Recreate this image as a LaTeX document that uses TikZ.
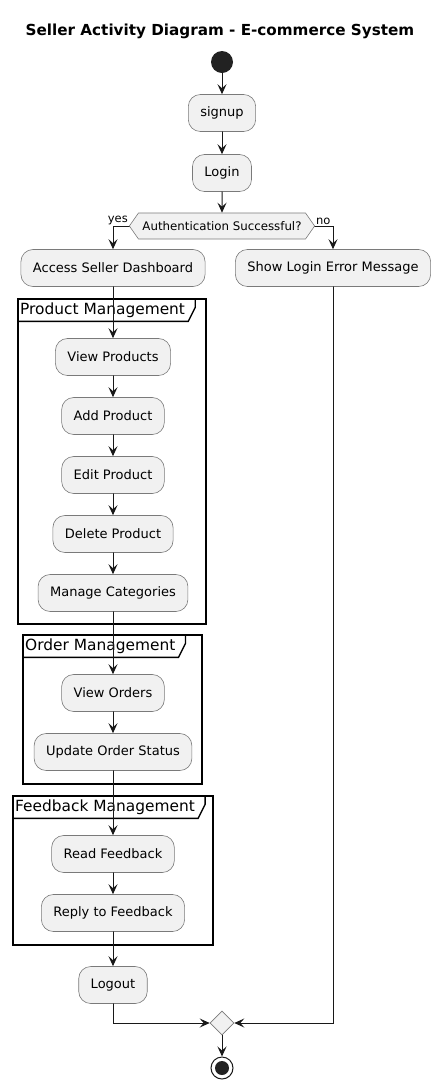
\documentclass[tikz,border=0pt]{standalone}
\usepackage{fontspec}
\setmainfont{DejaVu Sans}
\usetikzlibrary{shapes.geometric,shapes.symbols,arrows.meta}

\definecolor{actfill}{HTML}{F1F1F1}
\definecolor{umlline}{HTML}{181818}
\definecolor{actborder}{HTML}{7A7A7A}
\definecolor{dotfill}{HTML}{222222}

\begin{document}
\begin{tikzpicture}[x=1pt, y=-1pt, line cap=round]

%---- STYLES ----
\tikzset{
    act/.style={draw=actborder, line width=0.6pt, fill=actfill, rounded corners=12pt,
        minimum height=37pt, inner xsep=12pt, font=\fontsize{13}{15}\selectfont},
    decide/.style={signal, signal to=west and east, signal pointer angle=110,
        draw=actborder, line width=0.6pt, fill=actfill, minimum height=26pt,
        inner xsep=4pt, inner ysep=0pt, font=\fontsize{11.8}{14}\selectfont},
    mergebox/.style={diamond, draw=actborder, line width=0.6pt, fill=actfill,
        minimum size=24pt, inner sep=0pt},
    flowarrow/.style={-{Stealth[length=10pt, width=9pt, inset=4pt]}, umlline, line width=1pt},
    grp/.style={black, line width=1.4pt},
    grplabel/.style={anchor=north west, inner xsep=2pt, inner ysep=0pt,
        minimum height=22pt, font=\fontsize{15.4}{18}\selectfont},
    guard/.style={inner sep=1pt, font=\fontsize{11.5}{13}\selectfont},
}

% page = reference size
\useasboundingbox (0,0) rectangle (440,1080);

% COLUMNS
\def\colM{222}
\def\colL{113}
\def\colR{333}

%---- TITLE ----
\node[font=\fontsize{15.2}{18}\selectfont\bfseries] (title) at (220,31)
    {Seller Activity Diagram - E-commerce System};

%---- GROUP FRAMES ----
\draw[grp] (18,299) rectangle (206,624);
\node[grplabel] (pmlbl) at (18,299) {Product Management};
\draw[grp] (pmlbl.south west) -- ([xshift=1pt]pmlbl.south east)
    -- ([xshift=8pt, yshift=14pt]pmlbl.south east) -- ([xshift=8pt]pmlbl.north east);

\draw[grp] (23,635) rectangle (202,784);
\node[grplabel] (omlbl) at (23,635) {Order Management};
\draw[grp] (omlbl.south west) -- ([xshift=1pt]omlbl.south east)
    -- ([xshift=8pt, yshift=14pt]omlbl.south east) -- ([xshift=8pt]omlbl.north east);

\draw[grp] (13,796) rectangle (213,945);
\node[grplabel] (fmlbl) at (13,796) {Feedback Management};
\draw[grp] (fmlbl.south west) -- ([xshift=1pt]fmlbl.south east)
    -- ([xshift=8pt, yshift=14pt]fmlbl.south east) -- ([xshift=8pt]fmlbl.north east);

%---- START ----
\node[circle, fill=dotfill, minimum size=22pt, inner sep=0pt] (start) at (\colM,62) {};

%---- ACTIVITIES ----
\node[act] (signup) at (\colM,113) {signup};
\node[act] (login)  at (\colM,173) {Login};
\node[decide] (auth) at (\colM,226) {Authentication Successful?};

\node[act] (access) at (\colL,268) {Access Seller Dashboard};
\node[act] (error)  at (\colR,268) {Show Login Error Message};

% product management
\node[act] (viewprod)  at (\colL,357) {View Products};
\node[act] (addprod)   at (\colL,416) {Add Product};
\node[act] (editprod)  at (\colL,475) {Edit Product};
\node[act] (delprod)   at (\colL,534) {Delete Product};
\node[act] (managecat) at (\colL,593) {Manage Categories};

% order management
\node[act] (vieworders)   at (\colL,693) {View Orders};
\node[act] (updatestatus) at (\colL,752) {Update Order Status};

% feedback management
\node[act] (readfb)  at (\colL,854) {Read Feedback};
\node[act] (replyfb) at (\colL,913) {Reply to Feedback};

\node[act] (logout) at (\colL,985) {Logout};

%---- MERGE + END ----
\node[mergebox] (merge) at (\colM,1023) {};
\node[circle, draw=umlline, line width=1pt, fill=white, minimum size=22pt, inner sep=0pt]
    (stop) at (\colM,1068) {};
\node[circle, fill=dotfill, minimum size=14pt, inner sep=0pt] (stopdot) at (stop) {};

%---- GUARDS ----
\node[guard, anchor=south east] (yes) at (auth.west) {yes};
\node[guard, anchor=south west] (no)  at (auth.east) {no};

%---- FLOW ----
\draw[flowarrow] (start) -- (signup);
\draw[flowarrow] (signup) -- (login);
\draw[flowarrow] (login) -- (auth);
\draw[flowarrow] (auth.west) -| (access.north);
\draw[flowarrow] (auth.east) -| (error.north);

\draw[flowarrow] (access) -- (viewprod);
\draw[flowarrow] (viewprod) -- (addprod);
\draw[flowarrow] (addprod) -- (editprod);
\draw[flowarrow] (editprod) -- (delprod);
\draw[flowarrow] (delprod) -- (managecat);
\draw[flowarrow] (managecat) -- (vieworders);
\draw[flowarrow] (vieworders) -- (updatestatus);
\draw[flowarrow] (updatestatus) -- (readfb);
\draw[flowarrow] (readfb) -- (replyfb);
\draw[flowarrow] (replyfb) -- (logout);

\draw[flowarrow] (logout) |- (merge.west);
\draw[flowarrow] (error) |- (merge.east);
\draw[flowarrow] (merge) -- (stop);

\end{tikzpicture}
\end{document}
